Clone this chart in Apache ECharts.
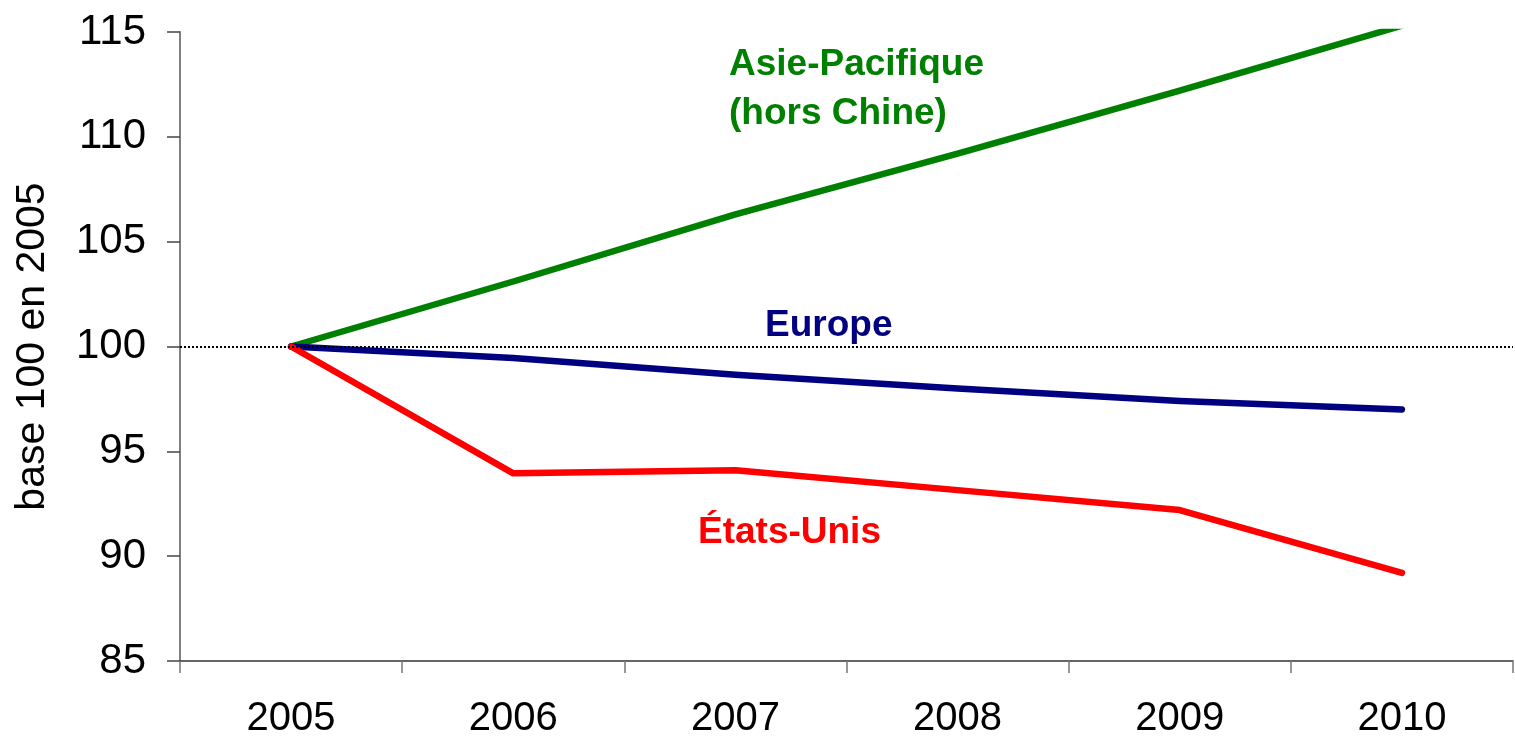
<!DOCTYPE html>
<html>
<head>
<meta charset="utf-8">
<script src="https://cdn.jsdelivr.net/npm/echarts@6/dist/echarts.min.js"></script>
<style>
  html, body { margin: 0; padding: 0; background: #fff; }
  #chart { width: 1515px; height: 739px; }
</style>
</head>
<body>
<div id="chart"></div>
<script>
  // années
  const years = ['2005', '2006', '2007', '2008', '2009', '2010'];
  // indices base 100 en 2005
  const asiePacifique = [100, 103.1, 106.3, 109.2, 112.2, 115.3];
  const europe = [100, 99.45, 98.65, 98.0, 97.4, 97.0];
  const etatsUnis = [100, 93.95, 94.1, 93.15, 92.2, 89.2];
  const yTicks = { min: 85, max: 115, step: 5 };

  const font = '"Liberation Sans", Arial, sans-serif';
  const chart = echarts.init(document.getElementById('chart'));

  function ligne(name, data, color) {
    return {
      name: name,
      type: 'line',
      data: data,
      symbol: 'none',
      clip: true,
      lineStyle: { color: color, width: 6.5, cap: 'round', join: 'round' },
      emphasis: { disabled: true }
    };
  }

  const option = {
    animation: false,
    backgroundColor: '#fff',
    grid: { left: 180, right: 2, top: 32, bottom: 78 },
    xAxis: {
      type: 'category',
      data: years,
      boundaryGap: true,
      axisLine: { lineStyle: { color: '#333', width: 1.5 } },
      axisTick: { show: true, length: 12, lineStyle: { color: '#777', width: 1.5 } },
      axisLabel: { fontFamily: font, fontSize: 40, color: '#000', margin: 38 }
    },
    yAxis: {
      type: 'value',
      min: yTicks.min,
      max: yTicks.max,
      interval: yTicks.step,
      name: 'base 100 en 2005',
      nameLocation: 'middle',
      nameGap: 127,
      nameTextStyle: { fontFamily: font, fontSize: 41, color: '#000' },
      axisLine: { show: true, lineStyle: { color: '#808080', width: 2 } },
      axisTick: { show: true, length: 13, lineStyle: { color: '#444', width: 1.5 } },
      splitLine: { show: false },
      axisLabel: { fontFamily: font, fontSize: 42, color: '#000', margin: 34 }
    },
    series: [
      Object.assign(ligne('Asie-Pacifique (hors Chine)', asiePacifique, '#008000'), {
        markLine: {
          silent: true,
          symbol: 'none',
          label: { show: false },
          lineStyle: { color: '#000', type: 'dotted', width: 2 },
          data: [{ yAxis: 100 }]
        }
      }),
      ligne('Europe', europe, '#000080'),
      ligne('États-Unis', etatsUnis, '#ff0000')
    ],
    graphic: [
      {
        type: 'text', left: 729, top: 40,
        style: {
          text: 'Asie-Pacifique\n(hors Chine)',
          font: 'bold 37px ' + font,
          lineHeight: 49,
          fill: '#008000'
        }
      },
      {
        type: 'text', left: 765, top: 307,
        style: { text: 'Europe', font: 'bold 37px ' + font, fill: '#000080' }
      },
      {
        type: 'text', left: 698, top: 514,
        style: { text: 'États-Unis', font: 'bold 37px ' + font, fill: '#ff0000' }
      }
    ]
  };

  chart.setOption(option);
</script>
</body>
</html>
